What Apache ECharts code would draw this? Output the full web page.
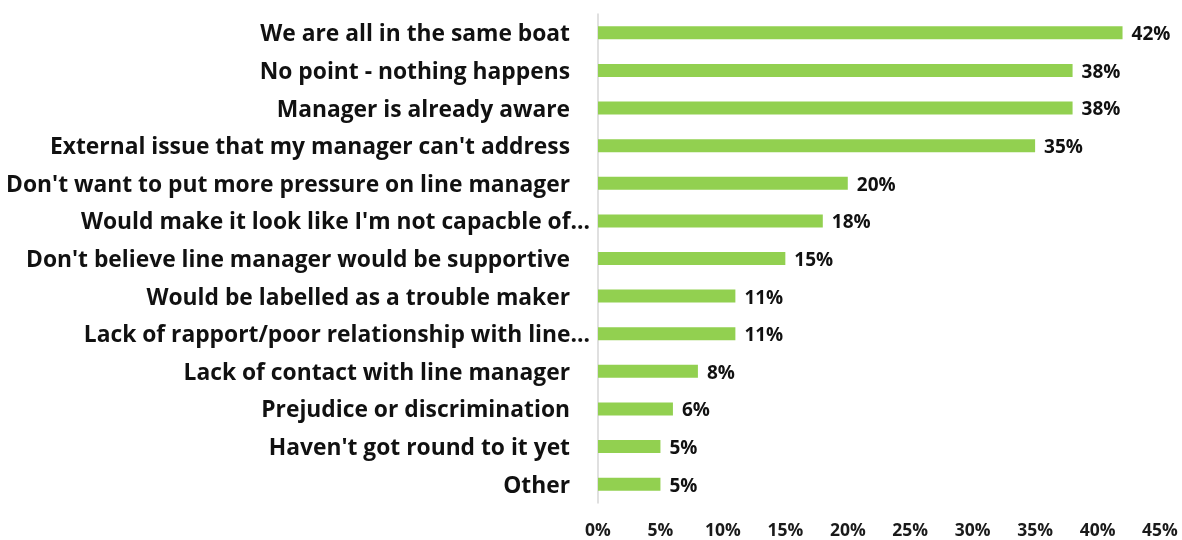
<!DOCTYPE html>
<html><head><meta charset="utf-8">
<script src="https://cdn.jsdelivr.net/npm/echarts@6/dist/echarts.min.js"></script>
<style>html,body{margin:0;padding:0;background:#fff}#c{width:1182px;height:540px}</style>
</head><body><div id="c"></div>
<script>
const categories = [
  "We are all in the same boat",
  "No point - nothing happens",
  "Manager is already aware",
  "External issue that my manager can't address",
  "Don't want to put more pressure on line manager",
  "Would make it look like I'm not capacble of…",
  "Don't believe line manager would be supportive",
  "Would be labelled as a trouble maker",
  "Lack of rapport/poor relationship with line…",
  "Lack of contact with line manager",
  "Prejudice or discrimination",
  "Haven't got round to it yet",
  "Other"
];
const values = [42, 38, 38, 35, 20, 18, 15, 11, 11, 8, 6, 5, 5];
const xTicks = [0, 5, 10, 15, 20, 25, 30, 35, 40, 45];

const chart = echarts.init(document.getElementById('c'));
const font = '"Open Sans", Lato, sans-serif';
chart.setOption({
  animation: false,
  grid: { left: 598, right: 22, top: 14, bottom: 36, containLabel: false },
  xAxis: {
    type: 'value', min: 0, max: 45, interval: 5,
    axisLine: { show: false }, axisTick: { show: false }, splitLine: { show: false },
    axisLabel: { formatter: v => xTicks.includes(v) ? v + '%' : '', color: '#1a1a1a', fontFamily: font, fontWeight: 'bold', fontSize: 17.5, margin: 19 }
  },
  yAxis: {
    type: 'category', inverse: true, data: categories,
    axisLine: { show: true, lineStyle: { color: '#d6d6d6', width: 1.5 } },
    axisTick: { show: false },
    axisLabel: {
      color: '#111', fontFamily: font, fontWeight: 'bold', fontSize: 22.8, margin: 8,
      formatter: v => v.endsWith('…') ? '{t|' + v + '}' : '{n|' + v + '}',
      rich: {
        n: { fontFamily: font, fontWeight: 'bold', fontSize: 22.8, color: '#111', padding: [4, 20, 0, 0] },
        t: { fontFamily: font, fontWeight: 'bold', fontSize: 22.8, color: '#111', padding: [4, 0, 0, 0] }
      }
    }
  },
  series: [{
    type: 'bar', data: values, barWidth: 13,
    itemStyle: { color: '#92D050' },
    label: { show: true, position: 'right', distance: 9, offset: [0, 2], formatter: p => p.value + '%', color: '#111', fontFamily: font, fontWeight: 'bold', fontSize: 19 }
  }]
});
</script></body></html>
